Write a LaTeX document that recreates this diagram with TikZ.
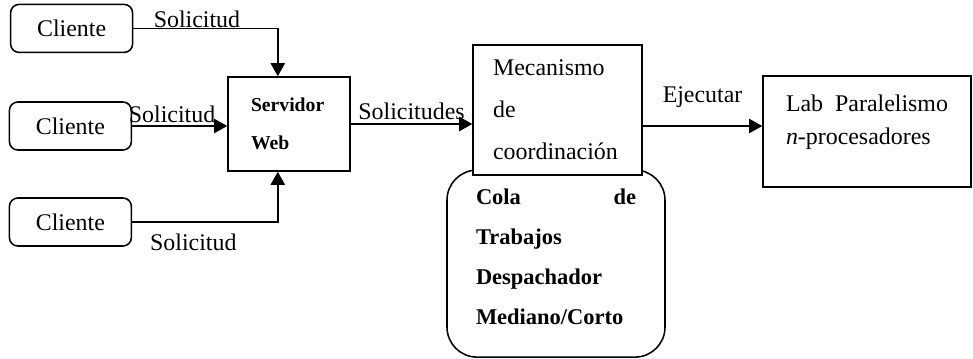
\documentclass[tikz,border=0pt]{standalone}
\usepackage{fontspec}
\setmainfont{Liberation Serif}
\usetikzlibrary{arrows.meta,positioning,calc}

\begin{document}
\begin{tikzpicture}[
    box/.style={draw, line width=1.1pt, fill=white},
    client/.style={box, rounded corners=6pt, minimum width=3.05cm, minimum height=1.2cm},
    queue/.style={box, rounded corners=0.75cm, minimum width=5.45cm, minimum height=4.675cm},
    lbl/.style={anchor=base, inner sep=0pt},
    flow/.style={line width=1.1pt, -{Triangle[length=0.33cm,width=0.36cm]}},
    font=\fontsize{17}{20}\selectfont
]
\useasboundingbox (0,0) rectangle (24.325,-8.975);

% --- Clientes ---
\node[client] (cli1) at (1.79,-0.71) {Cliente};
\node[client] (cli2) at (1.76,-3.15) {Cliente};
\node[client] (cli3) at (1.76,-5.55) {Cliente};

% --- Servidor ---
\node[box, minimum width=3.05cm, minimum height=2.35cm, text width=1.9cm, align=left,
      font=\fontsize{14}{27}\selectfont\bfseries] (srv) at (7.225,-3.1) {Servidor\\Web};

% --- Cola y mecanismo ---
\node[queue, text width=4cm, align=left, font=\fontsize{16}{28.5}\selectfont\bfseries] (cola) at (13.9,-6.59)
    {Cola\hfill de\\Trabajos\\Despachador\\Mediano/Corto\rule[-0.35cm]{0pt}{0pt}};
\node[box, minimum width=4.225cm, minimum height=3.25cm, text width=3.225cm, align=left,
      font=\fontsize{17}{30}\selectfont] (mech) at (13.94,-2.75) {Mecanismo\\de\\coordinación};

% --- Laboratorio ---
\node[box, minimum width=5.2cm, minimum height=2.775cm, text width=4.05cm, align=left,
      font=\fontsize{17}{23}\selectfont] (lab) at (21.675,-3.29)
    {Lab\hfill Paralelismo\\\textit{n}-procesadores\rule[-0.6cm]{0pt}{0pt}};

% Flujos
\draw[flow] (cli1.east) -| ([xshift=-0.28cm]srv.north)
    node[lbl, pos=0.22, yshift=0.03cm] {Solicitud};
\draw[flow] (cli2.east) -- (cli2.east -| srv.west)
    node[lbl, pos=0.42, yshift=0.1cm] {Solicitud};
\draw[flow] (cli3.east) -| ([xshift=-0.28cm]srv.south)
    node[pos=0.21, below=0.15cm] {Solicitud};
\draw[flow] (srv.east) -- (srv.east -| mech.west)
    node[lbl, midway, yshift=0.12cm] {Solicitudes};
\draw[flow] ([yshift=-0.4cm]mech.east) -- ([yshift=-0.4cm]mech.east -| lab.west)
    node[lbl, midway, yshift=0.6cm] {Ejecutar};

\end{tikzpicture}
\end{document}
